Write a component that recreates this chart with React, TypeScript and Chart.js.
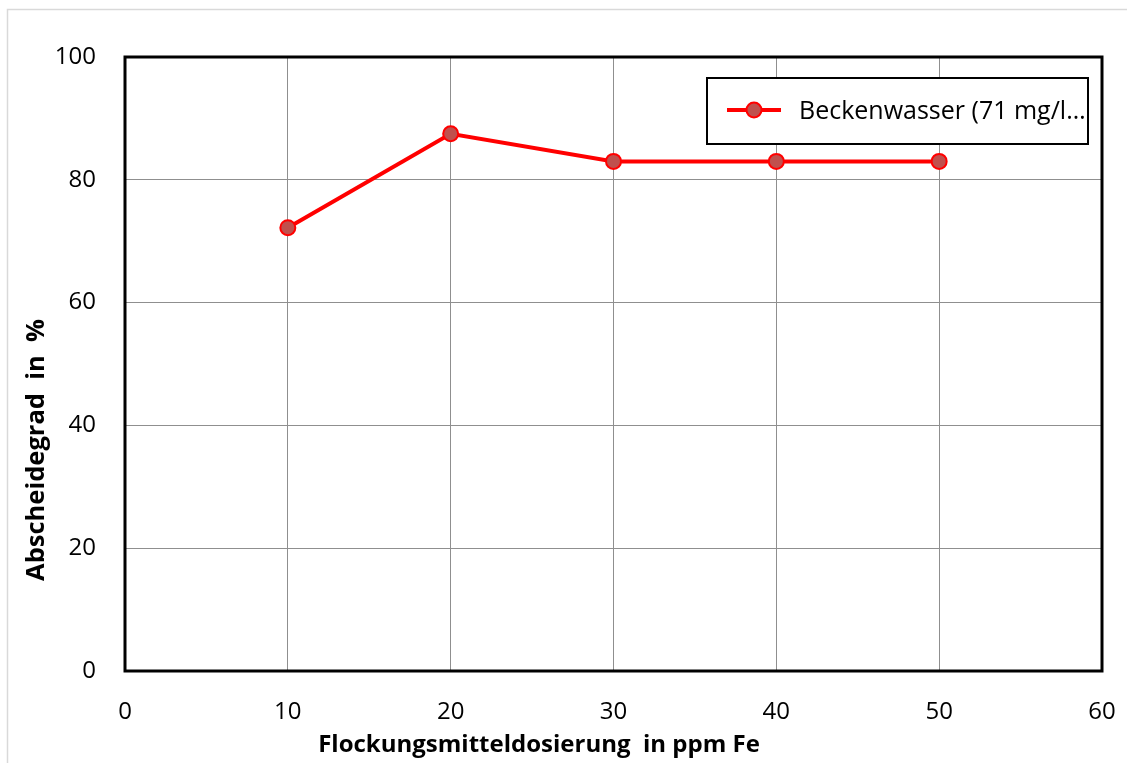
import React, { useEffect, useRef } from "react";
import { Chart, registerables } from "chart.js";

Chart.register(...registerables);

const xDoses = [10, 20, 30, 40, 50];
const abscheidegrad = [72.2, 87.5, 83.0, 83.0, 83.0];
const seriesLabel = "Beckenwasser (71 mg/l…";
const xTitle = "Flockungsmitteldosierung  in ppm Fe";
const yTitle = "Abscheidegrad  in  %";

const FONT = "'Open Sans', 'Noto Sans', sans-serif";
const LINE_RED = "#FF0000";
const MARKER_FILL = "#C0504D";

const framePlugin = {
  id: "frame",
  beforeDraw(chart: any) {
    const ctx = chart.ctx;
    ctx.save();
    ctx.fillStyle = "#ffffff";
    ctx.fillRect(0, 0, chart.width, chart.height);
    ctx.strokeStyle = "#d9d9d9";
    ctx.lineWidth = 1.5;
    ctx.beginPath();
    ctx.moveTo(7.5, chart.height);
    ctx.lineTo(7.5, 9.5);
    ctx.lineTo(chart.width, 9.5);
    ctx.stroke();
    ctx.restore();
  },
  beforeDatasetsDraw(chart: any) {
    const { ctx, chartArea: a } = chart;
    ctx.save();
    ctx.strokeStyle = "#000000";
    ctx.lineWidth = 3;
    ctx.strokeRect(a.left, a.top, a.right - a.left, a.bottom - a.top);
    ctx.restore();
  },
  afterDraw(chart: any) {
    const { ctx } = chart;
    ctx.save();
    ctx.fillStyle = "#000000";
    ctx.font = `bold 24px ${FONT}`;
    ctx.textAlign = "center";
    ctx.textBaseline = "middle";
    ctx.fillText(xTitle, 539, 745);
    ctx.font = `bold 25.5px ${FONT}`;
    ctx.translate(37, 450);
    ctx.rotate(-Math.PI / 2);
    ctx.fillText(yTitle, 0, 0);
    ctx.restore();

    // legend box
    ctx.save();
    const bx = 707, by = 78, bw = 381, bh = 66;
    ctx.fillStyle = "#ffffff";
    ctx.fillRect(bx, by, bw, bh);
    ctx.strokeStyle = "#000000";
    ctx.lineWidth = 2;
    ctx.strokeRect(bx, by, bw, bh);
    const ly = by + bh / 2 - 1;
    ctx.strokeStyle = LINE_RED;
    ctx.lineWidth = 4;
    ctx.beginPath();
    ctx.moveTo(727, ly);
    ctx.lineTo(781, ly);
    ctx.stroke();
    ctx.beginPath();
    ctx.arc(754, ly, 7.5, 0, Math.PI * 2);
    ctx.fillStyle = MARKER_FILL;
    ctx.fill();
    ctx.lineWidth = 2;
    ctx.strokeStyle = LINE_RED;
    ctx.stroke();
    ctx.fillStyle = "#000000";
    ctx.font = `25px ${FONT}`;
    ctx.textAlign = "left";
    ctx.textBaseline = "middle";
    ctx.fillText(chart.data.datasets[0].label, 799, ly + 2);
    ctx.restore();
  },
};

export default function App() {
  const ref = useRef<HTMLCanvasElement>(null);
  useEffect(() => {
    if (!ref.current) return;
    const chart = new Chart(ref.current, {
      type: "line",
      data: {
        datasets: [
          {
            label: seriesLabel,
            data: xDoses.map((x, i) => ({ x, y: abscheidegrad[i] })),
            borderColor: LINE_RED,
            borderWidth: 4,
            backgroundColor: MARKER_FILL,
            pointBackgroundColor: MARKER_FILL,
            pointBorderColor: LINE_RED,
            pointBorderWidth: 2,
            pointRadius: 7.5,
            tension: 0,
          },
        ],
      },
      options: {
        responsive: false,
        animation: false,
        layout: { padding: { top: 57, right: 25, left: 0, bottom: 0 } },
        plugins: { legend: { display: false }, tooltip: { enabled: false } },
        scales: {
          x: {
            type: "linear",
            min: 0,
            max: 60,
            afterFit: (s: any) => {
              s.height = 92;
              s.paddingLeft = 0;
              s.paddingRight = 0;
            },
            ticks: {
              stepSize: 10,
              color: "#000",
              padding: 27,
              font: { family: FONT, size: 24 },
            },
            grid: { color: "#8f8f8f", lineWidth: 1, drawTicks: false },
            border: { display: false },
          },
          y: {
            min: 0,
            max: 100,
            afterFit: (s: any) => {
              s.width = 125;
              s.paddingTop = 0;
              s.paddingBottom = 0;
            },
            ticks: {
              stepSize: 20,
              color: "#000",
              padding: 29,
              font: { family: FONT, size: 24 },
            },
            grid: { color: "#8f8f8f", lineWidth: 1, drawTicks: false },
            border: { display: false },
          },
        },
      },
      plugins: [framePlugin],
    });
    return () => chart.destroy();
  }, []);
  return (
    <canvas
      ref={ref}
      width={1127}
      height={763}
      style={{ position: "absolute", left: 0, top: 0, display: "block" }}
    />
  );
}
